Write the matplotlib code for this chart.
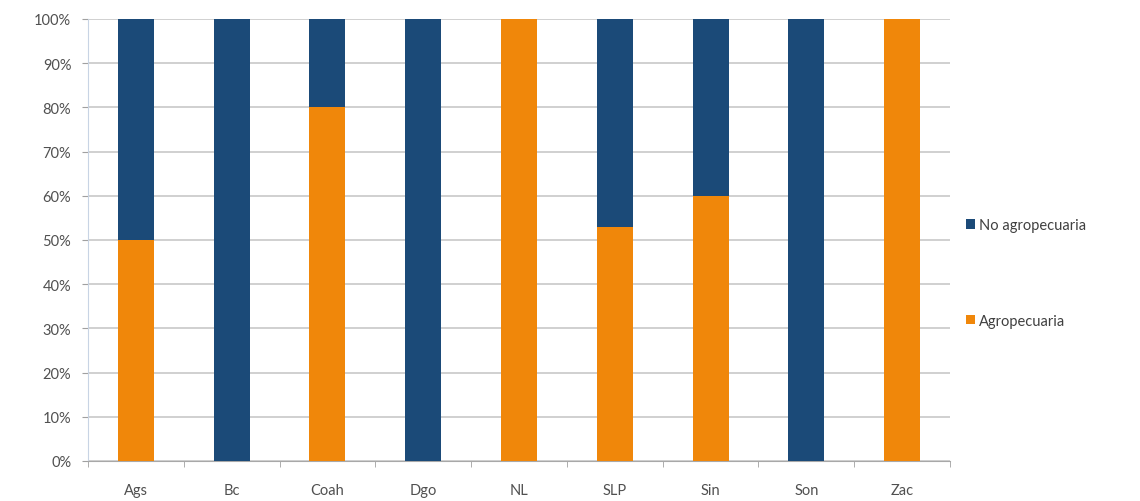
import matplotlib
matplotlib.use("Agg")
import matplotlib.pyplot as plt
import numpy as np

categories = ["Ags", "Bc", "Coah", "Dgo", "NL", "SLP", "Sin", "Son", "Zac"]
agropecuaria = [50, 0, 80, 0, 100, 53, 60, 0, 100]
no_agropecuaria = [50, 100, 20, 100, 0, 47, 40, 100, 0]
yticks = [0, 10, 20, 30, 40, 50, 60, 70, 80, 90, 100]

navy = "#1b4a78"
orange = "#f0870a"

plt.rcParams['font.family'] = ['Lato', 'DejaVu Sans']

fig = plt.figure(figsize=(11.4, 5.02), dpi=100)
ax = fig.add_axes([88/1140, 40/502, (950-88)/1140, (462-20)/502])

x = np.arange(len(categories))
w = 0.375
b1 = ax.bar(x, agropecuaria, width=w, color=orange, label="Agropecuaria", zorder=3)
b2 = ax.bar(x, no_agropecuaria, width=w, bottom=agropecuaria, color=navy,
            label="No agropecuaria", zorder=3)

ax.set_xlim(-0.5, len(categories) - 0.5)
ax.set_ylim(0, 100)
ax.set_yticks(yticks)
ax.set_yticklabels([f"{v}%" for v in yticks])
ax.set_xticks(x)
ax.set_xticklabels(categories)
ax.set_xticks(np.arange(-0.5, len(categories), 1), minor=True)

ax.tick_params(axis='x', which='major', length=0, pad=16, labelsize=10.5, labelcolor="#505050")
ax.tick_params(axis='x', which='minor', length=4, direction='out', color="#a0a0a0")
ax.tick_params(axis='y', length=4, direction='out', color="#a0a0a0", labelsize=10.5,
               labelcolor="#505050", pad=8)

ax.yaxis.grid(True, color="#c8c8c8", linewidth=1.2, zorder=0)
for s in ["top", "right"]:
    ax.spines[s].set_visible(False)
ax.spines["left"].set_color("#c8d4e4")
ax.spines["bottom"].set_color("#a8a8a8")

handles = [b2, b1]
leg = fig.legend(handles, ["No agropecuaria", "Agropecuaria"], loc="center left",
                 bbox_to_anchor=(953/1140, (502-274)/502), frameon=False, fontsize=10.5,
                 handlelength=0.6, handleheight=0.6, handletextpad=0.3,
                 labelspacing=5.6, labelcolor="#404040")

fig.savefig("out.png", dpi=100)
